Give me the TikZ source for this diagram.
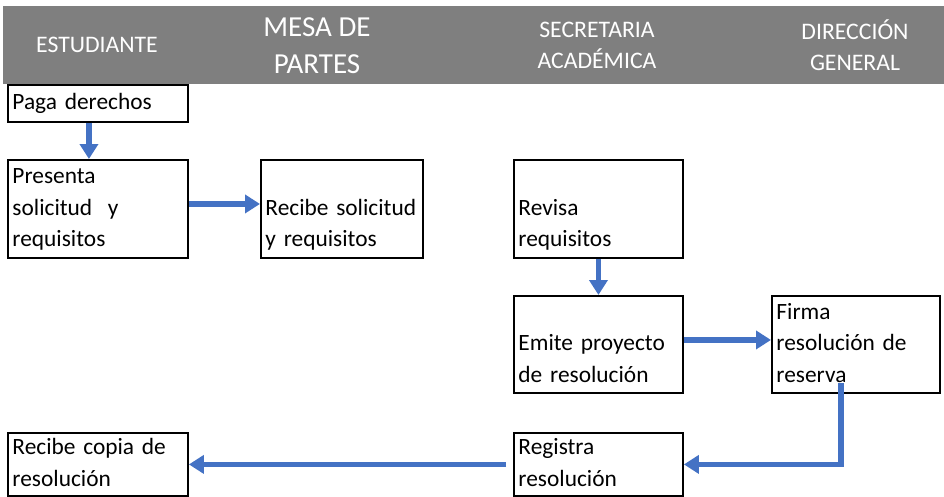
\documentclass[tikz,border=0pt]{standalone}
\usepackage{fontspec}
\setmainfont{Carlito}
\usetikzlibrary{arrows.meta,calc}
\definecolor{cabecera}{HTML}{7F7F7F}
\definecolor{azul}{HTML}{4472C4}

\begin{document}
\begin{tikzpicture}[x=0.02cm,y=-0.02cm,
    caja/.style={draw,line width=1.1pt,align=left,anchor=north west,
      inner xsep=0.09cm,inner ysep=0pt,
      font=\fontsize{13.3}{17.9}\selectfont},
    titulo/.style={text=white,align=center,
      font=\fontsize{13.5}{17.6}\selectfont},
    flecha/.style={azul,line width=3pt,-{Triangle[length=0.3cm,width=0.36cm]}}]

    \useasboundingbox (0,0) rectangle (944,497);

    % cabecera
    \fill[cabecera] (3,6) rectangle (944,84);
    \node[titulo] (estudiante) at (97,45) {ESTUDIANTE};
    \node[titulo,font=\fontsize{16.5}{21}\selectfont] (mesa) at (317,46) {MESA DE\\PARTES};
    \node[titulo] (secretaria) at (597,45) {SECRETARIA\\ACADÉMICA};
    \node[titulo] (direccion) at (855,45) {DIRECCIÓN\\GENERAL};

    % cajas
    \node[caja,text width=3.42cm,minimum height=0.74cm] (paga) at (7,84) {Paga derechos};
    \node[caja,text width=3.42cm,minimum height=1.96cm] (presenta) at (7,159)
      {\strut Presenta\\solicitud\ \ y\\requisitos\strut};
    \node[caja,text width=3.06cm,minimum height=1.96cm] (recibe) at (260,159)
      {\strut\\Recibe solicitud\\y requisitos\strut};
    \node[caja,text width=3.2cm,minimum height=1.96cm] (revisa) at (513,159)
      {\strut\\Revisa\\requisitos\strut};
    \node[caja,text width=3.2cm,minimum height=1.94cm] (emite) at (513,295)
      {\strut\\Emite proyecto\\de resolución\strut};
    \node[caja,text width=3.18cm,minimum height=1.94cm] (firma) at (771,295)
      {\strut Firma\\resolución de\\reserva\strut};
    \node[caja,text width=3.42cm,minimum height=1.2cm] (copia) at (7,432)
      {\strut Recibe copia de\\resolución\strut};
    \node[caja,text width=3.2cm,minimum height=1.2cm] (registra) at (513,432)
      {\strut Registra\\resolución\strut};

    % flechas
    \draw[flecha] ([xshift=-0.18cm]paga.south) -- ([xshift=-0.18cm]presenta.north);
    \draw[flecha] ([yshift=0.1cm]presenta.east) -- ([yshift=0.1cm]recibe.west);
    \draw[flecha] (revisa.south) -- (emite.north);
    \draw[flecha] ([yshift=0.09cm]emite.east) -- ([yshift=0.09cm]firma.west);
    \coordinate (bajada) at (841,383);
    \draw[flecha] (bajada) |- (registra.east);
    \draw[flecha] ([xshift=-0.14cm]registra.west) -- (copia.east);
  \end{tikzpicture}
\end{document}
